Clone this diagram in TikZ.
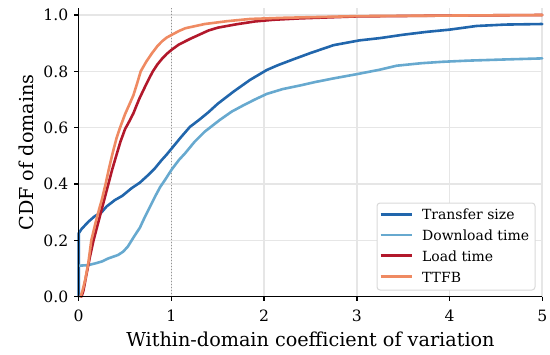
\documentclass[tikz,border=0pt]{standalone}
\usepackage{fontspec}
\setmainfont{DejaVu Serif}
\definecolor{cTS}{HTML}{2166AC}
\definecolor{cDT}{HTML}{67A9CF}
\definecolor{cLT}{HTML}{B2182B}
\definecolor{cTT}{HTML}{EF8A62}
\definecolor{gridc}{HTML}{E6E6E6}
\tikzset{
  gridline/.style={gridc, line width=0.8pt},
  curve/.style={line width=1.3pt, line join=round, line cap=round},
  spine/.style={black, line width=0.7pt},
  ticklab/.style={font=\fontsize{7.8}{9}\selectfont, inner sep=0pt},
  axlab/.style={font=\fontsize{9.6}{11}\selectfont, inner sep=0pt},
  leglab/.style={font=\fontsize{7}{8}\selectfont, inner sep=0pt, anchor=base west},
}
\begin{document}
\begin{tikzpicture}[x=0.5pt,y=-0.5pt]
\useasboundingbox (0,0) rectangle (550,354);
\begin{scope}[shift={(39.35pt,-148.35pt)}, x=46.35pt, y=140.85pt]
  % grid
  \foreach \v in {0.2,0.4,0.6,0.8,1.0} \draw[gridline] (0,\v) -- (5,\v);
  \foreach \u in {1,...,5} \draw[gridline] (\u,0) -- (\u,1.024);
  \draw[gray!85, line width=0.5pt, dash pattern=on 0.6pt off 0.9pt] (1,0) -- (1,1.024);
  % curves
  \draw[curve, cTS] (0,0) -- (0,0.225) -- (0.03,0.24) -- (0.104,0.266) -- (0.17,0.285) -- (0.248,0.30) -- (0.3,0.32) -- (0.39,0.343) -- (0.47,0.358) -- (0.57,0.385) -- (0.66,0.405) -- (0.75,0.432) -- (0.82,0.455) -- (0.895,0.485) -- (0.95,0.505) -- (1.0,0.525) -- (1.1,0.565) -- (1.2,0.603) -- (1.3,0.628) -- (1.4,0.655) -- (1.5,0.685) -- (1.67,0.728) -- (1.85,0.77) -- (2.03,0.805) -- (2.15,0.822) -- (2.31,0.842) -- (2.5,0.865) -- (2.75,0.893) -- (3.03,0.91) -- (3.25,0.918) -- (3.5,0.93) -- (3.75,0.94) -- (4.0,0.948) -- (4.29,0.961) -- (4.6,0.966) -- (5,0.968);
  \draw[curve, cDT] (0,0.11) -- (0.1,0.112) -- (0.176,0.118) -- (0.25,0.125) -- (0.32,0.136) -- (0.424,0.148) -- (0.48,0.16) -- (0.53,0.178) -- (0.6,0.215) -- (0.66,0.245) -- (0.715,0.284) -- (0.77,0.32) -- (0.823,0.355) -- (0.88,0.39) -- (0.93,0.414) -- (1.0,0.45) -- (1.08,0.485) -- (1.15,0.51) -- (1.25,0.55) -- (1.36,0.586) -- (1.52,0.627) -- (1.65,0.657) -- (1.78,0.68) -- (1.9,0.70) -- (2.03,0.72) -- (2.2,0.737) -- (2.39,0.75) -- (2.55,0.762) -- (2.75,0.775) -- (3.0,0.79) -- (3.25,0.806) -- (3.43,0.82) -- (3.7,0.829) -- (3.93,0.834) -- (4.2,0.838) -- (4.58,0.842) -- (5,0.846);
  \draw[curve, cLT] (0.03,0) -- (0.05,0.02) -- (0.086,0.083) -- (0.12,0.14) -- (0.16,0.2) -- (0.2,0.25) -- (0.24,0.3) -- (0.28,0.35) -- (0.32,0.4) -- (0.36,0.45) -- (0.40,0.495) -- (0.45,0.55) -- (0.50,0.595) -- (0.55,0.625) -- (0.59,0.651) -- (0.65,0.70) -- (0.715,0.745) -- (0.76,0.775) -- (0.80,0.80) -- (0.85,0.825) -- (0.9,0.845) -- (0.95,0.862) -- (1.0,0.876) -- (1.08,0.895) -- (1.2,0.915) -- (1.3,0.93) -- (1.4,0.945) -- (1.5,0.955) -- (1.7,0.967) -- (1.9,0.977) -- (2.1,0.983) -- (2.39,0.988) -- (3,0.995) -- (4,0.998) -- (5,1.0);
  \draw[curve, cTT] (0.02,0) -- (0.04,0.02) -- (0.07,0.06) -- (0.104,0.12) -- (0.136,0.2) -- (0.18,0.26) -- (0.22,0.31) -- (0.25,0.345) -- (0.29,0.4) -- (0.33,0.46) -- (0.37,0.515) -- (0.41,0.565) -- (0.446,0.6) -- (0.50,0.648) -- (0.55,0.685) -- (0.59,0.715) -- (0.63,0.757) -- (0.669,0.8) -- (0.73,0.835) -- (0.79,0.864) -- (0.85,0.89) -- (0.9,0.907) -- (0.95,0.92) -- (1.0,0.929) -- (1.08,0.943) -- (1.15,0.953) -- (1.36,0.968) -- (1.6,0.978) -- (1.85,0.986) -- (2.2,0.99) -- (3,0.996) -- (5,1.0);
  % spines and ticks
  \draw[spine] (0,1.024) -- (0,0) -- (5,0);
  \foreach \v/\t [count=\i] in {0/0.0,0.2/0.2,0.4/0.4,0.6/0.6,0.8/0.8,1/1.0} {
    \draw[spine] (0,\v) -- ++(-2.25pt,0);
    \node[ticklab, anchor=east] (yt\i) at ([xshift=-5pt]0,\v) {\t};
  }
  \foreach \u [count=\i] in {0,...,5} {
    \draw[spine] (\u,0) -- ++(0,-2.25pt);
    \node[ticklab, anchor=base] (xt\i) at ([yshift=-12.5pt]\u,0) {\u};
  }
  \node[axlab, anchor=base] (xlab) at ([yshift=-24.7pt]2.5,0) {Within-domain coefficient of variation};
  \node[axlab, anchor=base, rotate=90] (ylab) at ([xshift=-22.7pt]0,0.512) {CDF of domains};
\end{scope}
% legend
\draw[gray!30, fill=white, rounded corners=1.5pt, line width=0.5pt] (377,203) rectangle (535,290);
\foreach \yy/\c/\t [count=\i] in {214.3/cTS/Transfer size, 235/cDT/Download time, 255.7/cLT/Load time, 276.7/cTT/TTFB} {
  \draw[curve, line cap=butt, \c] (380.7,\yy) -- (411.7,\yy);
  \node[leglab] (leg\i) at (421.7,\yy+5.5) {\t};
}
\end{tikzpicture}
\end{document}
